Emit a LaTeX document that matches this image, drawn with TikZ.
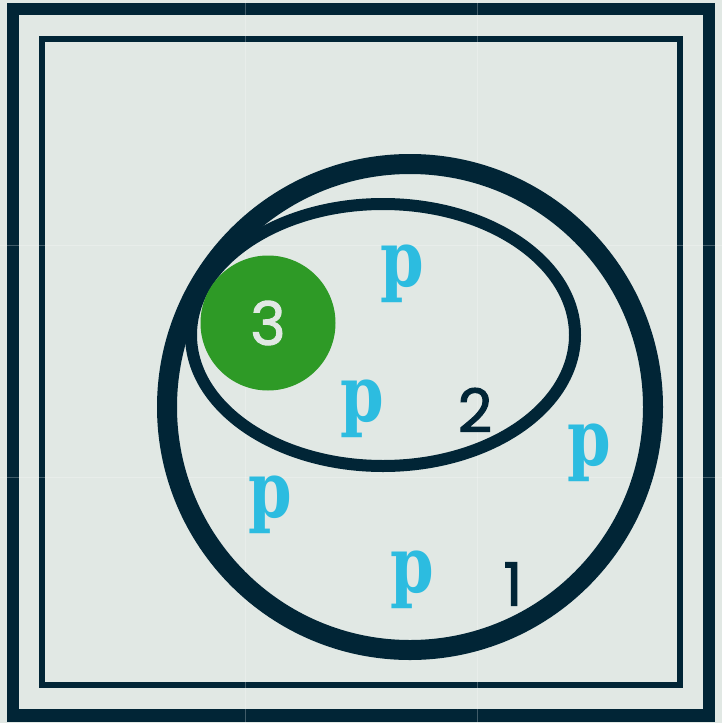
\documentclass[tikz,border=0pt]{standalone}
\usepackage{fontspec}
\newfontfamily\digitfont{Poppins}[FakeBold=1.6]
\newfontfamily\pfont{DejaVu Serif}
\definecolor{navy}{RGB}{1,37,54}
\definecolor{paper}{RGB}{225,232,228}
\definecolor{leaf}{RGB}{46,154,38}
\definecolor{sky}{RGB}{44,188,224}
\usetikzlibrary{positioning}

\begin{document}
\begin{tikzpicture}[x=1pt, y=-1pt,
    frame/.style={draw=navy},
    ring/.style={draw=navy},
    digit/.style={font=\digitfont\fontsize{60}{60}\selectfont, text=navy, inner sep=0pt},
    pmark/.style={font=\pfont\bfseries\fontsize{78}{78}\selectfont, text=sky, inner sep=0pt},
    greendot/.style={circle, fill=leaf, minimum size=135pt, inner sep=0pt,
      font=\digitfont\fontsize{60}{60}\selectfont, text=paper}
  ]
    % background and frames
    \fill[paper] (0,0) rectangle (722,723);
    \useasboundingbox (0,0) rectangle (722,723);
    \draw[frame, line width=12.6pt] (13,8.8) rectangle (709,715.3);
    \draw[frame, line width=6pt] (42.3,38.7) rectangle (679.7,685.3);
    \foreach \g in {245,477} {
      \draw[white, opacity=.25, line width=1pt] (\g,0) -- (\g,723);
      \draw[white, opacity=.25, line width=1pt] (0,\g) -- (722,\g);
    }

    % sets
    \draw[ring, line width=20pt] (410,407) circle [radius=243];
    \draw[ring, line width=12pt] (383,335) ellipse [x radius=192, y radius=131];
    \node[greendot] (set3) at (268,323) {3};

    % labels
    \node[digit] (set2) at (475,410) {2};
    \node[digit] (set1) at (513,584) {1};

    % points
    \node[pmark] (p1) at (402,274) {\scalebox{0.8}[1]{p}};
    \node[pmark] (p2) at (362,409) {\scalebox{0.8}[1]{p}};
    \node[pmark] (p3) at (270,505) {\scalebox{0.8}[1]{p}};
    \node[pmark] (p4) at (412,580) {\scalebox{0.8}[1]{p}};
    \node[pmark] (p5) at (589,453) {\scalebox{0.8}[1]{p}};
\end{tikzpicture}
\end{document}
